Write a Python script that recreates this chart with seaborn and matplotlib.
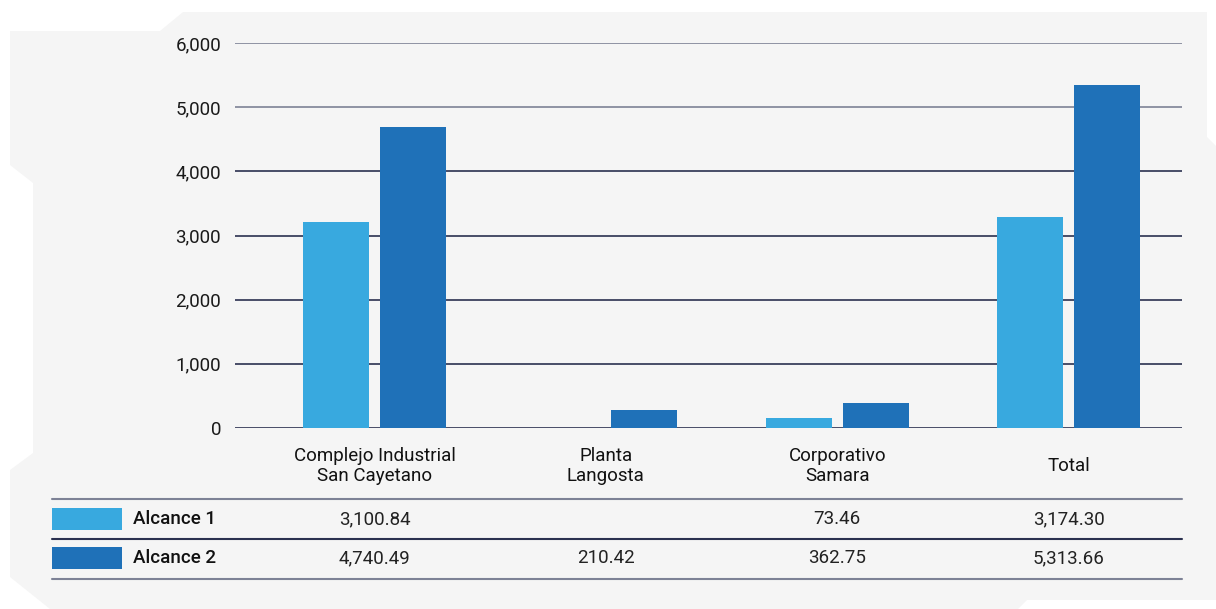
import matplotlib
matplotlib.use("Agg")
import matplotlib.pyplot as plt
import matplotlib.transforms as mtransforms
from matplotlib.patches import Polygon, Rectangle
from matplotlib.lines import Line2D
import seaborn as sns
import pandas as pd

# ---- data ----
categories = ["Complejo Industrial\nSan Cayetano", "Planta\nLangosta", "Corporativo\nSamara", "Total"]
series = ["Alcance 1", "Alcance 2"]
# bar heights as drawn in the picture
alcance1_bars = [3210, 0, 150, 3290]
alcance2_bars = [4690, 280, 397, 5340]
# values printed in the table
alcance1_table = ["3,100.84", "", "73.46", "3,174.30"]
alcance2_table = ["4,740.49", "210.42", "362.75", "5,313.66"]
yticks = [0, 1000, 2000, 3000, 4000, 5000, 6000]
ytick_labels = ["0", "1,000", "2,000", "3,000", "4,000", "5,000", "6,000"]

colors = ["#38a9df", "#1f71b8"]
bg = "#f5f5f5"
line_dark = "#2b3150"
line_gray = "#7d8296"

sns.set_theme(style="white")
plt.rcParams["font.family"] = ["Roboto", "DejaVu Sans"]

W, H = 1216, 609
fig = plt.figure(figsize=(W / 100, H / 100), dpi=100)
fig.patch.set_facecolor("white")

def fx(x):
    return x / W

def fy(y):
    return 1 - y / H

# background shape
pts = [(10, 31), (160, 31), (183, 12), (1207, 12), (1207, 137), (1216, 146),
       (1216, 600), (1027, 600), (1018, 609), (50, 609), (10, 577), (10, 470),
       (33, 453), (33, 183), (10, 165)]
fig.add_artist(Polygon([(fx(x), fy(y)) for x, y in pts], closed=True,
                       transform=fig.transFigure, facecolor=bg, edgecolor="none", zorder=0))

ax = fig.add_axes([fx(235), fy(428), fx(1182) - fx(235), (428 - 43) / H])
ax.set_facecolor("none")

df = pd.DataFrame({
    "cat": categories * 2,
    "serie": [series[0]] * 4 + [series[1]] * 4,
    "val": alcance1_bars + alcance2_bars,
})
sns.barplot(data=df, x="cat", y="val", hue="serie", order=categories, hue_order=series,
            palette=colors, width=0.665, gap=0.14, saturation=1, ax=ax, legend=False,
            linewidth=0, edgecolor="none", zorder=3)

ax.set_xlim(-0.603, 3.49)
ax.set_ylim(0, 6000)
ax.set_yticks(yticks)
ax.set_yticklabels(ytick_labels, fontsize=13.5, color="#1a1a1a")
ax.tick_params(axis="y", length=0, pad=10)
ax.set_xticks([])
ax.set_xlabel("")
ax.set_ylabel("")
for s in ax.spines.values():
    s.set_visible(False)
for t in yticks:
    ax.axhline(t, color=line_dark if t < 5000 else line_gray, lw=1.2, zorder=1)

# category labels
trans = mtransforms.blended_transform_factory(ax.transData, fig.transFigure)
for i, c in enumerate(categories):
    ax.text(i, fy(466), c, transform=trans, ha="center", va="center",
            fontsize=13.5, color="#111111", linespacing=1.15)

# table rows
for y, col in [(499, line_gray), (539, line_dark), (579, line_gray)]:
    fig.add_artist(Line2D([fx(52), fx(1182)], [fy(y), fy(y)], transform=fig.transFigure,
                          color=col, lw=1.5))

rows = [(519, alcance1_table), (558, alcance2_table)]
for (yc, vals), name, col in zip(rows, series, colors):
    fig.add_artist(Rectangle((fx(52), fy(yc + 11)), fx(122) - fx(52), (22) / H,
                             transform=fig.transFigure, facecolor=col, edgecolor="none"))
    fig.text(fx(133), fy(yc), name, ha="left", va="center", fontsize=13.5,
             fontweight="medium", color="#111111")
    for i, v in enumerate(vals):
        ax.text(i, fy(yc), v, transform=trans, ha="center", va="center",
                fontsize=13.5, color="#222222")

fig.savefig("out.png", dpi=100, facecolor=fig.get_facecolor())
